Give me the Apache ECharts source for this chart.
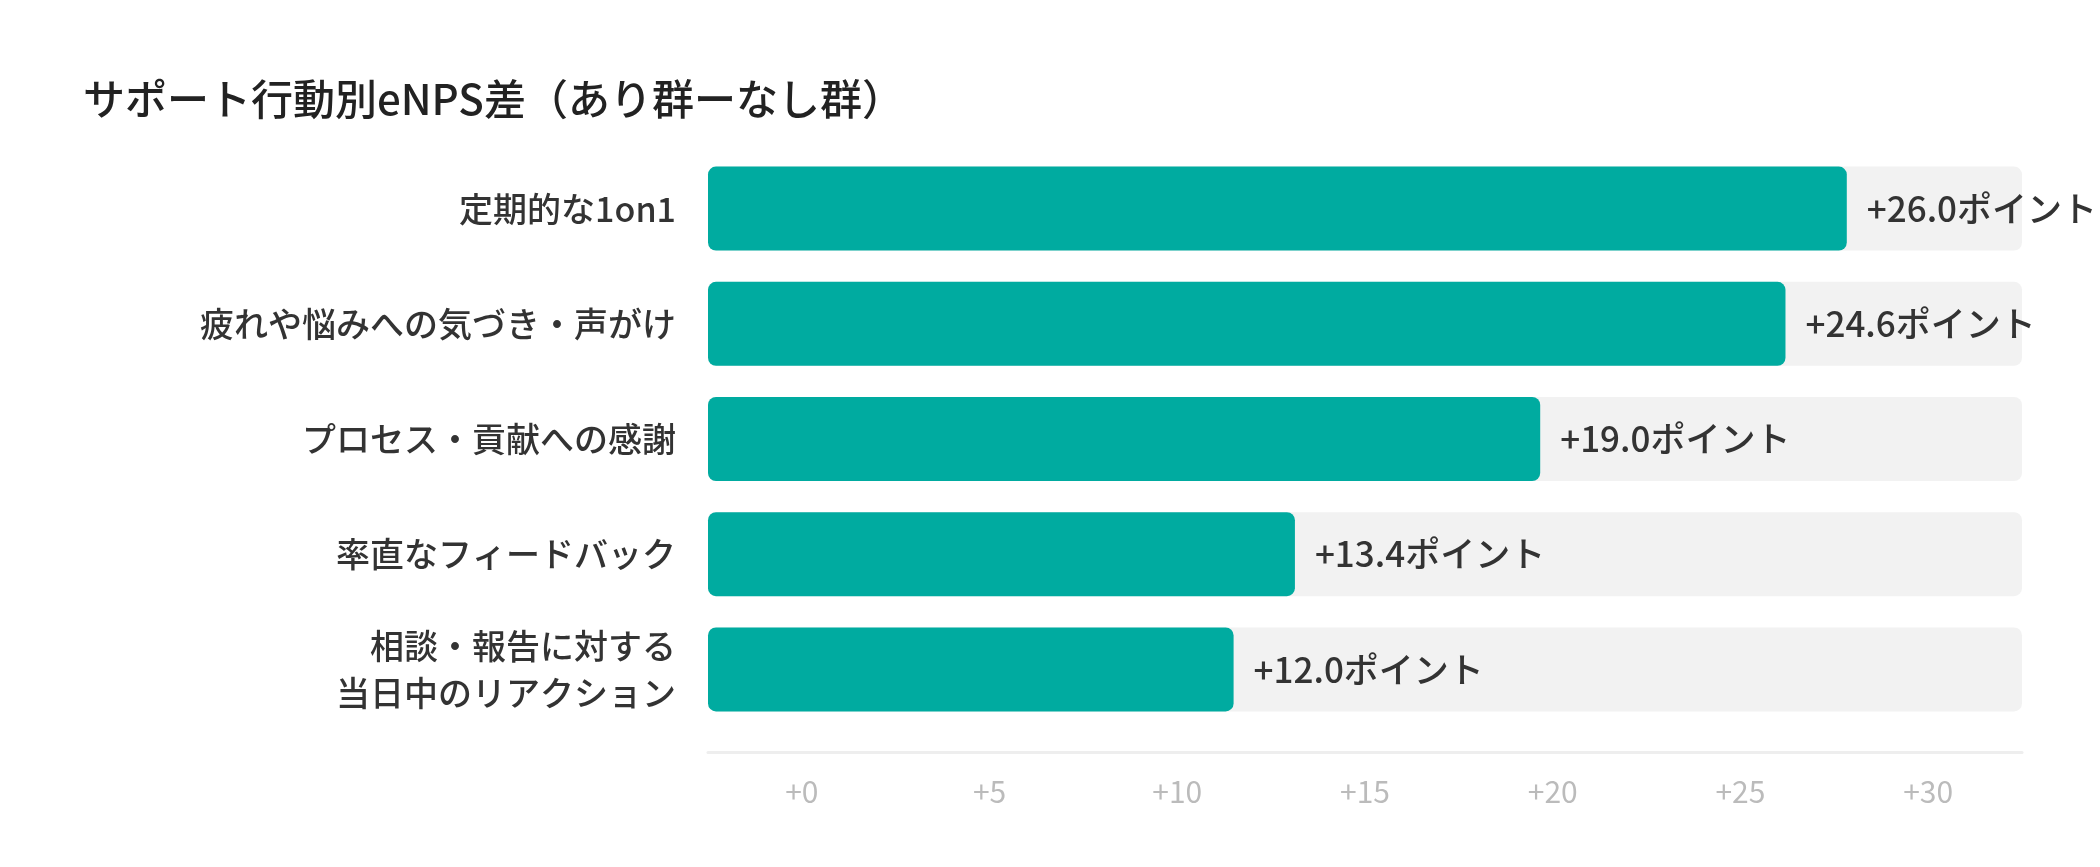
<!DOCTYPE html>
<html>
<head>
<meta charset="utf-8">
<script src="https://cdn.jsdelivr.net/npm/echarts@6/dist/echarts.min.js"></script>
<style>
html,body{margin:0;padding:0;background:#fff;}
#chart{width:2100px;height:867px;}
</style>
</head>
<body>
<div id="chart"></div>
<script>
const titleText = 'サポート行動別eNPS差（あり群ーなし群）';
const categories = ['定期的な1on1', '疲れや悩みへの気づき・声がけ', 'プロセス・貢献への感謝', '率直なフィードバック', '相談・報告に対する\n当日中のリアクション'];
const values = [26.0, 24.6, 19.0, 13.4, 12.0];
const tickLabels = ['+0', '+5', '+10', '+15', '+20', '+25', '+30'];
const valueMax = 30;

const FONT = '"Noto Sans CJK JP", "Noto Sans", sans-serif';
const chart = echarts.init(document.getElementById('chart'));
chart.setOption({
  backgroundColor: '#ffffff',
  animation: false,
  title: {
    text: titleText,
    left: 78,
    top: 73,
    textStyle: { fontFamily: FONT, fontSize: 42, fontWeight: 500, color: '#222222' }
  },
  grid: { left: 708, right: 78, top: 151, bottom: 140, containLabel: false },
  xAxis: [
    { type: 'value', min: 0, max: valueMax, show: false },
    {
      type: 'category', data: tickLabels, position: 'bottom', offset: 25,
      boundaryGap: true,
      axisLine: { show: true, lineStyle: { color: '#eeeeee', width: 3 } },
      axisTick: { show: false },
      splitLine: { show: false },
      axisLabel: { color: '#bbbbbb', fontSize: 30, fontFamily: FONT, margin: 25 }
    }
  ],
  yAxis: {
    type: 'category', data: categories, inverse: true,
    axisLine: { show: false }, axisTick: { show: false },
    axisLabel: { color: '#333333', fontSize: 34, fontWeight: 500, fontFamily: FONT, margin: 32, lineHeight: 47, align: 'right' }
  },
  series: [{
    type: 'bar',
    xAxisIndex: 0,
    data: values,
    barWidth: 84,
    itemStyle: { color: '#00aba0', borderRadius: 8 },
    showBackground: true,
    backgroundStyle: { color: '#f2f2f2', borderRadius: 8 },
    label: {
      show: true, position: 'right', distance: 20,
      formatter: p => '+' + p.value.toFixed(1) + 'ポイント',
      color: '#333333', fontSize: 35, fontWeight: 500, fontFamily: FONT
    }
  }]
});
</script>
</body>
</html>
